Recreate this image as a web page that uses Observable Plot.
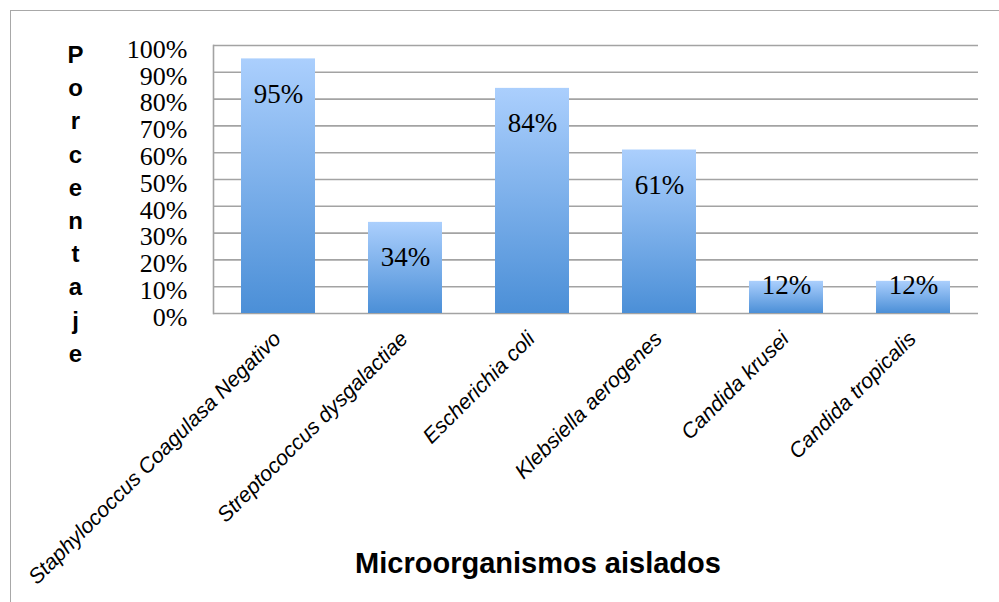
<!DOCTYPE html>
<html>
<head>
<meta charset="utf-8">
<script src="https://cdn.jsdelivr.net/npm/d3@7"></script>
<script src="https://cdn.jsdelivr.net/npm/@observablehq/plot@0.6"></script>
<style>
  html, body { margin: 0; padding: 0; background: #fff; }
  #wrap { position: relative; width: 999px; height: 602px; overflow: hidden; }
  #border { position: absolute; left: 10px; top: 10px; width: 1010px; height: 620px; border: 1.5px solid #a8a8a8; box-sizing: border-box; }
  #chart svg { position: absolute; left: 0; top: 0; }
  #chart g[aria-label="rect"] rect { filter: drop-shadow(2px 1px 1.5px rgba(0,0,0,0.28)); }
</style>
</head>
<body>
<div id="wrap"><div id="border"></div><div id="chart"></div></div>
<script>
const organisms = [
  "Staphylococcus Coagulasa Negativo",
  "Streptococcus dysgalactiae",
  "Escherichia coli",
  "Klebsiella aerogenes",
  "Candida krusei",
  "Candida tropicalis"
];
const percentages = [95, 34, 84, 61, 12, 12];
const yTicks = [0, 10, 20, 30, 40, 50, 60, 70, 80, 90, 100];
const yTitle = "Porcentaje";
const xTitle = "Microorganismos aislados";

const data = organisms.map((name, i) => ({ name, value: percentages[i] }));

const serif = "'Liberation Serif', 'Times New Roman', serif";
const sans = "'Liberation Sans', Arial, sans-serif";

const defs = () => {
  const d = d3.create("svg:defs");
  const g = d.append("linearGradient").attr("id", "barGrad")
    .attr("x1", 0).attr("y1", 0).attr("x2", 0).attr("y2", 1);
  g.append("stop").attr("offset", "0%").attr("stop-color", "#abcffd");
  g.append("stop").attr("offset", "100%").attr("stop-color", "#4b8fd7");
  return d.node();
};

const chart = Plot.plot({
  width: 999,
  height: 602,
  marginLeft: 213,
  marginRight: 21,
  marginTop: 45,
  marginBottom: 289,
  style: { background: "transparent", overflow: "visible" },
  x: { domain: organisms, paddingInner: 0.42, paddingOuter: 0.21, axis: null },
  y: { domain: [0, 100], axis: null },
  marks: [
    defs,
    Plot.gridY(yTicks, { stroke: "#a3a3a3", strokeOpacity: 1, strokeWidth: 1.6 }),
    Plot.frame({ anchor: "left", stroke: "#a3a3a3", strokeWidth: 1.6 }),
    Plot.barY(data, { x: "name", y: "value", fill: "url(#barGrad)" }),
    Plot.text(data.filter(d => d.value >= 20), {
      x: "name", y: "value", text: d => d.value + "%", dy: 35,
      fontFamily: serif, fontSize: 27, fill: "#000"
    }),
    Plot.text(data.filter(d => d.value < 20), {
      x: "name", y: "value", text: d => d.value + "%", dy: 4,
      fontFamily: serif, fontSize: 27, fill: "#000"
    }),
    Plot.text(yTicks, {
      y: d => d, text: d => d + "%", frameAnchor: "left", textAnchor: "end",
      dx: -26, dy: 4, fontFamily: serif, fontSize: 26, fill: "#000"
    }),
    Plot.text(data, {
      x: "name", text: "name", frameAnchor: "bottom", rotate: -45,
      textAnchor: "end", lineAnchor: "top", dx: -7, dy: 16,
      fontFamily: sans, fontStyle: "italic", fontSize: 21.3, fill: "#000"
    }),
    Plot.text([yTitle], {
      text: d => d.split("").join("\n"), frameAnchor: "top-left",
      dx: -138, dy: -6, lineAnchor: "top", lineHeight: 1.383, textAnchor: "middle",
      fontFamily: sans, fontWeight: "bold", fontSize: 24, fill: "#000"
    }),
    Plot.text([xTitle], {
      text: d => d, frameAnchor: "bottom", dx: -58, dy: 259, lineAnchor: "bottom",
      fontFamily: sans, fontWeight: "bold", fontSize: 29, fill: "#000"
    })
  ]
});

document.getElementById("chart").appendChild(chart);
</script>
</body>
</html>
